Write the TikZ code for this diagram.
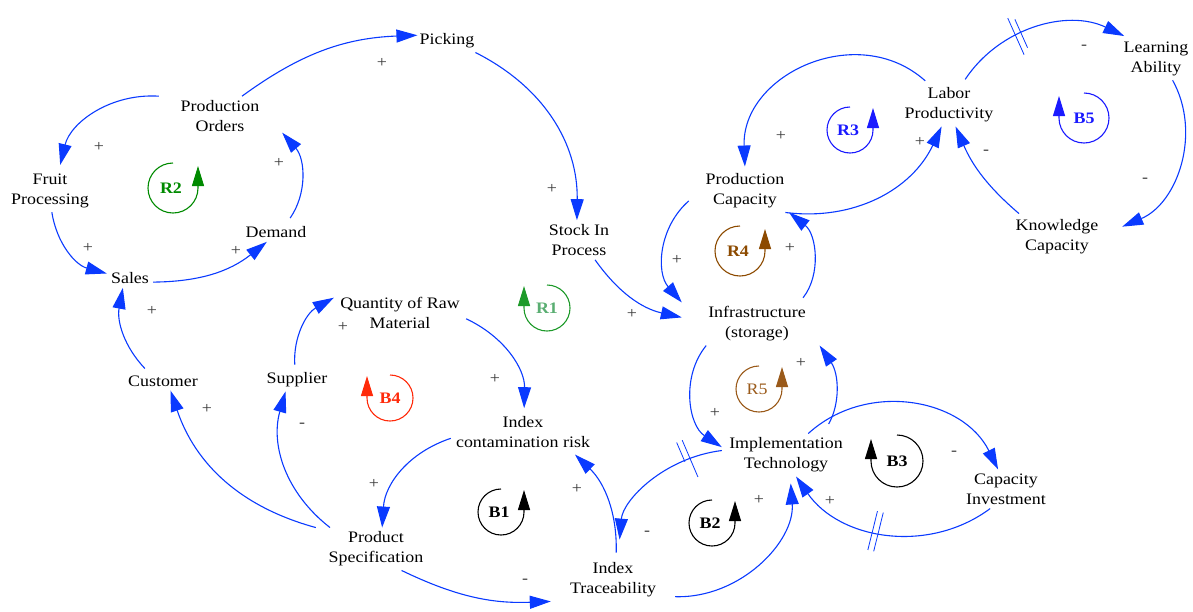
\documentclass[tikz,border=0pt]{standalone}
\usepackage{fontspec}
\setmainfont{Liberation Serif}[FakeStretch=1.12]
\usepackage{tikz}
\usetikzlibrary{arrows.meta,decorations.markings}
\definecolor{cldblue}{HTML}{0A3AFF}
\definecolor{cldgreen}{HTML}{008A00}
\definecolor{cldlgreen}{HTML}{1E9A2A}
\definecolor{cldpale}{HTML}{5AAE72}
\definecolor{cldred}{HTML}{FF2A0A}
\definecolor{cldbrown}{HTML}{8C4A00}
\definecolor{cldtan}{HTML}{9A5A1A}
\definecolor{cldloop}{HTML}{1A1AFF}
\definecolor{cldsign}{HTML}{3A3A3A}

\begin{document}
\begin{tikzpicture}[x=1pt, y=1pt,
  var/.style={align=center, inner xsep=2pt, inner ysep=4pt,
    font=\fontsize{16}{20}\selectfont},
  link/.style={cldblue, line width=1.1pt, -{Triangle[length=21pt,width=13pt]}},
  pol/.style={cldsign, font=\fontsize{16}{20}\selectfont},
  delaymark/.style={postaction={decorate, decoration={markings,
    mark=at position #1 with {\draw[cldblue, line width=0.8pt, -]
      (-3pt,-20pt) -- (-3pt,20pt) (3pt,-20pt) -- (3pt,20pt);}}}},
  loopline/.style={line width=1.1pt, -{Triangle[length=20pt,width=12pt]}},
  looplabel/.style={font=\fontsize{16}{20}\selectfont}]
  \useasboundingbox (0,0) rectangle (1193,-611);

  % Variables
  \node[var] (pick) at (447,-41) {Picking};
  \node[var, minimum width=124pt] (po) at (220,-116) {Production\\Orders};
  \node[var] (fp) at (50,-191) {Fruit\\Processing};
  \node[var, minimum width=46pt] (sales) at (130,-278) {Sales};
  \node[var] (dem) at (276,-232) {Demand};
  \node[var] (sip) at (579,-240) {Stock In\\Process};
  \node[var, minimum width=132pt] (qrm) at (400,-313) {Quantity of Raw\\Material};
  \node[var] (cust) at (163,-381) {Customer};
  \node[var] (supp) at (297,-380) {Supplier};
  \node[var, minimum width=144pt] (icr) at (523,-432) {Index\\contamination risk};
  \node[var, minimum width=120pt] (ps) at (376,-549) {Product\\Specification};
  \node[var, minimum width=124pt] (itr) at (613,-580) {Index\\Traceability};
  \node[var, minimum width=128pt] (impl) at (786,-455) {Implementation\\Technology};
  \node[var] (capi) at (1006,-489) {Capacity\\Investment};
  \node[var, minimum width=150pt] (infra) at (757,-324) {Infrastructure\\(storage)};
  \node[var, minimum width=112pt] (pcap) at (745,-191) {Production\\Capacity};
  \node[var] (lp) at (949,-105) {Labor\\Productivity};
  \node[var] (la) at (1156,-59) {Learning\\Ability};
  \node[var, minimum width=130pt] (kc) at (1057,-237) {Knowledge\\Capacity};

  % Causal links
  \draw[link] (po.42) to[bend left=17] (pick.169);
  \draw[link] (pick.-22) to[bend left=32] (sip.96);
  \draw[link, shorten >=5pt] (po.162) to[bend right=40] (fp.67);
  \draw[link] (fp.-85) to[bend right=33] (sales.169);
  \draw[link] (sales.-10) to[bend right=19] (dem.-133);
  \draw[link, shorten <=5pt] (dem.41) to[bend right=38] (po.-15);
  \draw[link, shorten <=4pt] (cust.148) to[bend left=27] (sales.-126);
  \draw[link] (ps.north west) to[bend left=28] (cust.-52);
  \draw[link] (ps.155) to[bend left=34] (supp.-135);
  \draw[link, shorten <=4pt] (supp.100) to[bend left=32] (qrm.167);
  \draw[link, shorten >=4pt] (qrm.-5) to[bend left=33] (icr.87);
  \draw[link] (icr.185) to[bend right=34] (ps.74);
  \draw[link] (ps.-40) to[bend right=14] (itr.-161);
  \draw[link, shorten <=6pt, shorten >=4pt] (itr.82) to[bend right=24] (icr.-22);
  \draw[link, shorten >=19pt, delaymark=0.22] (impl.176) to[bend right=39] (itr.77);
  \draw[link, shorten >=7pt] (itr.-15) to[bend right=48] (impl.-79);
  \draw[link] (impl.44) to[bend left=53, looseness=1.05] (capi.112);
  \draw[link, delaymark=0.55] (capi.-129) to[bend left=46] (impl.-65);
  \draw[link] (infra.-157) to[bend right=48] (impl.173);
  \draw[link, shorten <=11pt] (impl.30) to[bend right=32] (infra.-19);
  \draw[link] (sip.-51) to[bend right=21] (infra.175);
  \draw[link] (pcap.190) to[bend right=45] (infra.north west);
  \draw[link, shorten <=6pt] (infra.27) to[bend right=45] (pcap.-26);
  \draw[link, shorten <=4pt, shorten >=3pt] (lp.134) to[bend right=67, looseness=1.2] (pcap.90);
  \draw[link] (pcap.-28) to[bend right=36] (lp.-109);
  \draw[link, shorten <=5pt, shorten >=4pt, delaymark=0.4] (lp.58) to[bend left=41] (la.143);
  \draw[link] (la.-52) to[bend left=48] (kc.9);
  \draw[link, shorten <=3pt] (kc.149) to[bend left=13] (lp.-73);

  % Link polarities
  \foreach \px/\py/\sg [count=\i] in {382/63/+, 552/189/+, 99/147/+, 88/248/+,
      236/251/+, 279/163/+, 152/311/+, 207/409/+, 302/425/-, 343/327/+,
      495/379/+, 374/484/+, 525/581/-, 577/489/+, 647/533/-, 759/500/+,
      954/453/-, 830/501/+, 715/413/+, 801/363/+, 632/314/+, 677/260/+,
      790/248/+, 781/136/+, 920/142/+, 1084/47/-, 1145/180/-, 986/152/-}
    \node[pol] (sign\i) at (\px,-\py) {\sg};

  % Loop markers, arrow on the right
  \foreach \lx/\ly/\lr/\lc/\tc/\ln in {173/188/25/cldgreen/cldgreen/\textbf{R2},
      501/512/23/black/black/\textbf{B1}, 712/523/23/black/black/\textbf{B2},
      759/389/23/cldtan/cldtan/R5, 740/251/25/cldbrown/cldbrown/\textbf{R4},
      850/130/23/cldloop/cldloop/\textbf{R3}} {
    \draw[loopline, \lc] (\lx,-\ly+\lr) arc[start angle=90, end angle=360, radius=\lr]
      -- ++(0,22);
    \node[looplabel, text=\tc] (loop\ly) at (\lx-2,-\ly) {\ln};
  }
  % Loop markers, arrow on the left
  \foreach \lx/\ly/\lr/\lc/\tc/\ln in {547/308/23/cldlgreen/cldpale/\textbf{R1},
      390/398/23/cldred/cldred/\textbf{B4}, 897/461/26/black/black/\textbf{B3},
      1084/118/25/cldloop/cldloop/\textbf{B5}} {
    \draw[loopline, \lc] (\lx,-\ly+\lr) arc[start angle=90, end angle=-180, radius=\lr]
      -- ++(0,22);
    \node[looplabel, text=\tc] (loop\ly) at (\lx,-\ly) {\ln};
  }
\end{tikzpicture}
\end{document}
